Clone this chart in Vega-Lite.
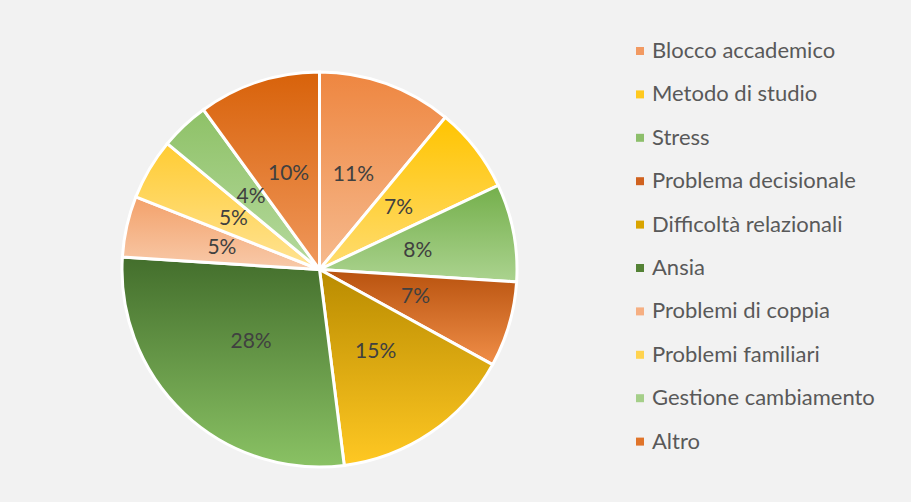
{
  "$schema": "https://vega.github.io/schema/vega-lite/v6.json",
  "autosize": "none",
  "width": 395,
  "height": 395,
  "padding": {"left": 122, "top": 72, "right": 394, "bottom": 35},
  "background": "#f2f2f2",
  "config": {"view": {"stroke": null}},
  "data": {"values": [
    {"cat": "Blocco accademico", "value": 0.11, "ord": 1},
    {"cat": "Metodo di studio", "value": 0.07, "ord": 2},
    {"cat": "Stress", "value": 0.08, "ord": 3},
    {"cat": "Problema decisionale", "value": 0.07, "ord": 4},
    {"cat": "Difficoltà relazionali", "value": 0.15, "ord": 5},
    {"cat": "Ansia", "value": 0.28, "ord": 6},
    {"cat": "Problemi di coppia", "value": 0.05, "ord": 7},
    {"cat": "Problemi familiari", "value": 0.05, "ord": 8},
    {"cat": "Gestione cambiamento", "value": 0.04, "ord": 9},
    {"cat": "Altro", "value": 0.10, "ord": 10}
  ]},
  "layer": [
    {
      "mark": {"type": "arc"},
      "encoding": {
        "theta": {"field": "value", "type": "quantitative", "stack": true},
        "order": {"field": "ord", "type": "quantitative"},
        "color": {
          "field": "cat", "type": "nominal",
          "scale": {
            "domain": ["Blocco accademico", "Metodo di studio", "Stress", "Problema decisionale", "Difficoltà relazionali", "Ansia", "Problemi di coppia", "Problemi familiari", "Gestione cambiamento", "Altro"],
            "range": ["#F29A62", "#FFC91E", "#8DBF6B", "#D0621F", "#D9A400", "#548235", "#F6AF82", "#FFD34F", "#A5CF89", "#E0742A"]
          },
          "legend": {
            "title": null,
            "orient": "none",
            "legendX": 507,
            "legendY": -32,
            "symbolType": "square",
            "symbolSize": 64,
            "symbolStrokeWidth": 0,
            "labelFont": "Lato",
            "labelFontSize": 22,
            "labelColor": "#595959",
            "labelOffset": 1,
            "rowPadding": 21.4,
            "labelLimit": 400
          }
        }
      }
    },
    {
      "mark": {"type": "arc", "stroke": "#ffffff", "strokeWidth": 3},
      "encoding": {
        "theta": {"field": "value", "type": "quantitative", "stack": true},
        "order": {"field": "ord", "type": "quantitative"},
        "color": {
          "condition": [
            {"test": "datum.cat == 'Blocco accademico'", "value": {"gradient": "linear", "x1": 0, "y1": 0, "x2": 0, "y2": 1, "stops": [{"offset": 0, "color": "#EE8640"}, {"offset": 1, "color": "#F6BA8E"}]}},
            {"test": "datum.cat == 'Metodo di studio'", "value": {"gradient": "linear", "x1": 0, "y1": 0, "x2": 0, "y2": 1, "stops": [{"offset": 0, "color": "#FFC400"}, {"offset": 1, "color": "#FFDC70"}]}},
            {"test": "datum.cat == 'Stress'", "value": {"gradient": "linear", "x1": 0, "y1": 0, "x2": 0, "y2": 1, "stops": [{"offset": 0, "color": "#74AF4B"}, {"offset": 1, "color": "#ABD38F"}]}},
            {"test": "datum.cat == 'Problema decisionale'", "value": {"gradient": "linear", "x1": 0, "y1": 0, "x2": 0, "y2": 1, "stops": [{"offset": 0, "color": "#B8520E"}, {"offset": 1, "color": "#F08E48"}]}},
            {"test": "datum.cat == 'Difficoltà relazionali'", "value": {"gradient": "linear", "x1": 0, "y1": 0, "x2": 0, "y2": 1, "stops": [{"offset": 0, "color": "#B98B00"}, {"offset": 1, "color": "#FFC823"}]}},
            {"test": "datum.cat == 'Ansia'", "value": {"gradient": "linear", "x1": 0, "y1": 0, "x2": 0, "y2": 1, "stops": [{"offset": 0, "color": "#436E2C"}, {"offset": 1, "color": "#8AC264"}]}},
            {"test": "datum.cat == 'Problemi di coppia'", "value": {"gradient": "linear", "x1": 0, "y1": 0, "x2": 0, "y2": 1, "stops": [{"offset": 0, "color": "#F3A16A"}, {"offset": 1, "color": "#F8CAAA"}]}},
            {"test": "datum.cat == 'Problemi familiari'", "value": {"gradient": "linear", "x1": 0, "y1": 0, "x2": 0, "y2": 1, "stops": [{"offset": 0, "color": "#FFCC33"}, {"offset": 1, "color": "#FFE394"}]}},
            {"test": "datum.cat == 'Gestione cambiamento'", "value": {"gradient": "linear", "x1": 0, "y1": 0, "x2": 0, "y2": 1, "stops": [{"offset": 0, "color": "#8EC167"}, {"offset": 1, "color": "#B6DA9E"}]}},
            {"test": "datum.cat == 'Altro'", "value": {"gradient": "linear", "x1": 0, "y1": 0, "x2": 0, "y2": 1, "stops": [{"offset": 0, "color": "#D8620A"}, {"offset": 1, "color": "#F0985C"}]}}
          ],
          "value": "#cccccc"
        }
      }
    },
    {
      "mark": {"type": "text", "radius": 100, "font": "Lato", "fontSize": 21, "fill": "#404040"},
      "encoding": {
        "theta": {"field": "value", "type": "quantitative", "stack": true},
        "order": {"field": "ord", "type": "quantitative"},
        "text": {"field": "value", "type": "quantitative", "format": ".0%"}
      }
    }
  ]
}
